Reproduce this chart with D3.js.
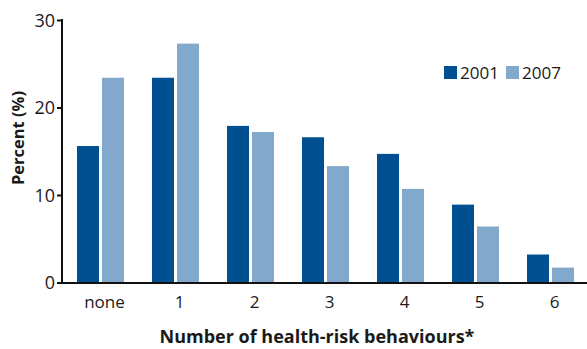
<!DOCTYPE html>
<html><head><meta charset="utf-8">
<script src="https://cdn.jsdelivr.net/npm/d3@7"></script>
<style>body{margin:0;background:#fff;} text{font-family:"Open Sans","Noto Sans",sans-serif;fill:#1a1a1a;}</style>
</head><body>
<svg id="c" width="587" height="349"></svg>
<script>
const categories = ["none","1","2","3","4","5","6"];
const seriesNames = ["2001","2007"];
const values2001 = [15.6,23.4,17.9,16.6,14.7,8.9,3.2];
const values2007 = [23.4,27.3,17.2,13.3,10.7,6.4,1.7];
const yTicks = [0,10,20,30];
const colors = ["#005091","#82a9cb"];

const svg = d3.select("#c");
const x = d3.scaleBand().domain(categories).range([63,588]).paddingInner(0.3733).paddingOuter(0.18665);
const xs = d3.scaleBand().domain(seriesNames).range([0,x.bandwidth()]).paddingInner(0.12);
const y = d3.scaleLinear().domain([0,30]).range([282.5,20]);

const data = categories.map((c,i)=>({c, v:[values2001[i],values2007[i]]}));
const g = svg.append("g");
data.forEach(d=>{
  seriesNames.forEach((s,j)=>{
    g.append("rect").attr("x",x(d.c)+xs(s)).attr("width",xs.bandwidth())
     .attr("y",y(d.v[j])).attr("height",y(0)-y(d.v[j])).attr("fill",colors[j]);
  });
});

// y axis
const ya = svg.append("g").attr("transform","translate(62,0)")
  .call(d3.axisLeft(y).tickValues(yTicks).tickSize(5).tickPadding(2));
ya.select(".domain").attr("stroke","#111").attr("stroke-width",2).attr("d","M0,19V283.5");
ya.selectAll(".tick line").attr("stroke","#111").attr("stroke-width",2);
ya.selectAll(".tick text").style("font-size","18px").attr("dy","0.36em");

// x axis
const xa = svg.append("g").attr("transform","translate(0,283)")
  .call(d3.axisBottom(x).tickSize(0).tickPadding(13));
xa.select(".domain").attr("stroke","#111").attr("stroke-width",2).attr("d","M61,0H587");
xa.selectAll(".tick text").style("font-size","17px").attr("dx",4);

// axis titles
svg.append("text").attr("transform","translate(24,138) rotate(-90)").attr("text-anchor","middle")
  .style("font-size","16.5px").style("font-weight","bold").text("Percent (%)");
svg.append("text").attr("x",317).attr("y",343).attr("text-anchor","middle")
  .style("font-size","18px").style("font-weight","bold").text("Number of health-risk behaviours*");

// legend
const lg = svg.append("g");
const legX = [444,506];
seriesNames.forEach((s,j)=>{
  lg.append("rect").attr("x",legX[j]).attr("y",66).attr("width",13).attr("height",13).attr("fill",colors[j]);
  lg.append("text").attr("x",legX[j]+16).attr("y",79).style("font-size","17px").text(s);
});
</script>
</body></html>
